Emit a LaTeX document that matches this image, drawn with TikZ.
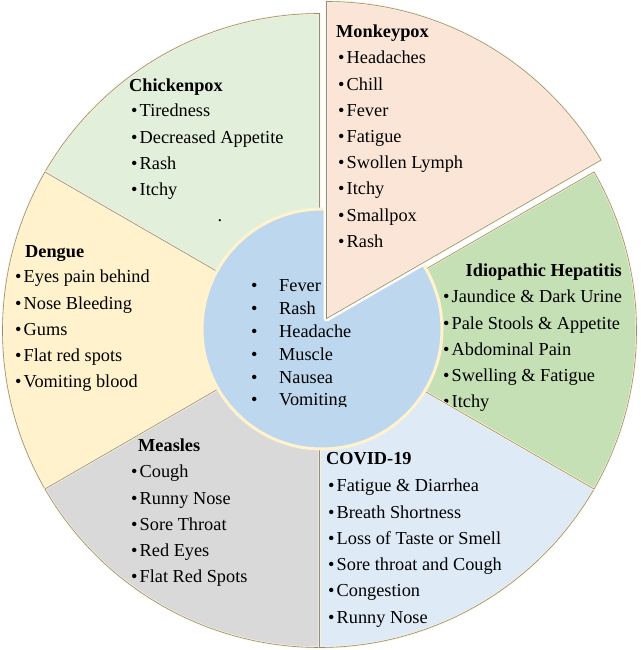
\documentclass[tikz,border=0pt]{standalone}
\usepackage{fontspec}
\setmainfont{Liberation Serif}
\definecolor{cpx}{HTML}{E2EFDA}
\definecolor{mpx}{HTML}{FBE5D6}
\definecolor{hep}{HTML}{C5E0B4}
\definecolor{cov}{HTML}{DEEBF7}
\definecolor{mea}{HTML}{D9D9D9}
\definecolor{den}{HTML}{FFF2CC}
\definecolor{ctr}{HTML}{BDD7EE}
\definecolor{cream}{HTML}{FFF2CC}
\definecolor{edge}{HTML}{8C8C8C}
\newcommand\bul{\makebox[8.5pt][l]{\textbullet}}
\newcommand\itemlist[5]{%
  \foreach \t [count=\i] in {#5}
    \node[item] (#1\i) at (#2,{650-(#3+#4*(\i-1))}) {\bul\t};}
\newcommand\sect[3]{(#1) -- ++(#2:317) arc[start angle=#2, end angle=#3, radius=317] -- cycle}
\begin{document}
\begin{tikzpicture}[x=1pt,y=1pt,
  item/.style={anchor=base west, inner sep=0pt, font=\fontsize{18.3}{20}\selectfont},
  ttl/.style={anchor=base west, inner sep=0pt, font=\fontsize{18.3}{20}\selectfont\bfseries},
  rim/.style={draw=cream, line width=2pt},
  thin/.style={draw=edge, line width=0.6pt, line join=round}]
\useasboundingbox (0,0) rectangle (640,650);
\fill[white] (0,0) rectangle (640,650);
\coordinate (C) at (319.5,319.5);
\coordinate (M) at (326.5,331.5);
% sector fills
\fill[cpx] \sect{C}{90}{150};
\fill[den] \sect{C}{150}{210};
\fill[mea] \sect{C}{210}{270};
\fill[cov] \sect{C}{270}{330};
\fill[hep] \sect{C}{-30}{30};
% sector texts
\node[ttl] (cpt) at (129,650-92) {Chickenpox};
\itemlist{cp}{131}{117}{26.2}{Tiredness,Decreased Appetite,Rash,Itchy}
\node[item] (dot) at (217.5,650-222) {.};
\node[ttl] (dgt) at (25,650-258) {Dengue};
\itemlist{dg}{15}{283}{26.2}{Eyes pain behind,Nose Bleeding,Gums,Flat red spots,Vomiting blood}
\node[ttl] (mst) at (138,650-452) {Measles};
\itemlist{ms}{131}{478}{26.2}{Cough,Runny Nose,Sore Throat,Red Eyes,Flat Red Spots}
\node[ttl] (cvt) at (326,650-465) {COVID-19};
\itemlist{cv}{328}{492}{26.2}{Fatigue \& Diarrhea,Breath Shortness,Loss of Taste or Smell,Sore throat and Cough,Congestion,Runny Nose}
\node[ttl, anchor=base east] (hpt) at (622,650-277) {Idiopathic Hepatitis};
\itemlist{hp}{443}{303}{26.2}{Jaundice \& Dark Urine,Pale Stools \& Appetite,Abdominal Pain,Swelling \& Fatigue,Itchy}
% sector outlines
\foreach \a/\b in {90/150,150/210,210/270,270/330,-30/30}{
  \draw[rim] \sect{C}{\a}{\b};
  \draw[thin] \sect{C}{\a}{\b};
}
% centre circle
\fill[ctr] (322,321) circle (120);
\draw[draw=cream, line width=3pt] (322,321) circle (120);
\begin{scope}
\clip (200,650-406.5) rectangle (450,650-270);
\foreach \t [count=\i] in {Fever,Rash,Headache,Muscle,Nausea,Vomiting}{
  \node[item] (cb\i) at (251,{650-(292+22.8*(\i-1))}) {\textbullet};
  \node[item] (ct\i) at (279,{650-(292+22.8*(\i-1))}) {\t};
}
\end{scope}
% exploded monkeypox sector
\draw[white, line width=6pt, line join=round] \sect{M}{30}{90};
\fill[mpx] \sect{M}{30}{90};
\draw[rim] \sect{M}{30}{90};
\draw[thin] \sect{M}{30}{90};
\node[ttl] (mpt) at (336,650-38) {Monkeypox};
\itemlist{mp}{338}{64}{26.2}{Headaches,Chill,Fever,Fatigue,Swollen Lymph,Itchy,Smallpox,Rash}
\end{tikzpicture}
\end{document}
